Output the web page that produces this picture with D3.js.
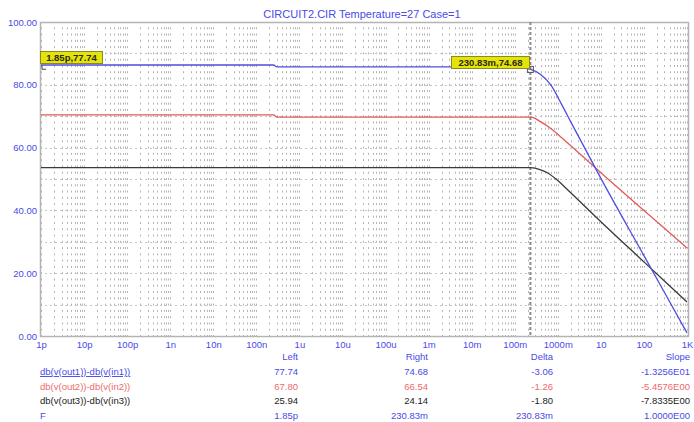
<!DOCTYPE html>
<html>
<head>
<meta charset="utf-8">
<script src="https://cdn.jsdelivr.net/npm/d3@7"></script>
<style>
  body { margin: 0; background: #fff; }
  svg { font-family: "Liberation Sans", Arial, sans-serif; }
</style>
</head>
<body>
<svg id="chart" width="694" height="422"></svg>
<script>
const title = 'CIRCUIT2.CIR Temperature=27 Case=1';

const freqTicks = [1e-12, 1e-11, 1e-10, 1e-9, 1e-8, 1e-7, 1e-6, 1e-5, 1e-4, 1e-3, 1e-2, 1e-1, 1, 10, 100, 1000];
const freqLabels = ['1p', '10p', '100p', '1n', '10n', '100n', '1u', '10u', '100u', '1m', '10m', '100m', '1000m', '10', '100', '1K'];
const yTicks = [100, 80, 60, 40, 20, 0];
const yLabels = ['100.00', '80.00', '60.00', '40.00', '20.00', '0.00'];

// traces (y in axis units)
const blueF = [1e-12, 2.5e-7, 3e-7, 0.1, 0.235, 0.4, 0.7, 1.2, 2, 10, 100, 1000];
const blueV = [86.3, 86.3, 85.7, 85.7, 84.9, 83.3, 79.8, 74.0, 68.2, 50.2, 25.6, 1.0];
const redF = [1e-12, 2.5e-7, 3e-7, 0.235, 0.403, 0.7, 1.175, 10, 100, 1000];
const redV = [70.4, 70.4, 69.7, 69.7, 68.2, 66.0, 63.4, 52.0, 40.0, 28.0];
const blackF = [1e-12, 0.235, 0.4, 0.585, 1.0, 1.71, 10, 100, 1000];
const blackV = [53.6, 53.6, 52.9, 51.9, 49.5, 46.5, 36.4, 23.6, 10.8];

// cursors
const cursorF = [1.85e-12, 0.23083];
const cursorV = [85.9, 84.9];
const cursorText = ['1.85p,77.74', '230.83m,74.68'];

// table below the plot
const traceNames = ['db(v(out1))-db(v(in1))', 'db(v(out2))-db(v(in2))', 'db(v(out3))-db(v(in3))', 'F'];
const traceColors = ['#4a4ae8', '#ee6a6a', '#222', '#4a4ae8'];
const leftVals = ['77.74', '67.80', '25.94', '1.85p'];
const rightVals = ['74.68', '66.54', '24.14', '230.83m'];
const deltaVals = ['-3.06', '-1.26', '-1.80', '230.83m'];
const slopeVals = ['-1.3256E01', '-5.4576E00', '-7.8335E00', '1.0000E00'];
const headers = ['Left', 'Right', 'Delta', 'Slope'];

const svg = d3.select('#chart');
const plotL = 40, plotR = 688, plotT = 22, plotB = 336;

const x = d3.scaleLog().domain([1e-12, 1000]).range([41, 687]);
const y = d3.scaleLinear().domain([0, 100]).range([plotB, plotT]);

const axisBlue = '#4a4ae8';

// grid: dotted vertical lines, dots land on rows every 2 units
const step = y(0) - y(2);
let gridF = [];
for (let e = -12; e < 3; e++) {
  for (let k = 1; k <= 9; k++) gridF.push(k * Math.pow(10, e));
}
gridF.push(1000);

const grid = svg.append('g');
grid.selectAll('line.v')
  .data(gridF).enter().append('line')
  .attr('class', 'v')
  .attr('x1', d => Math.round(x(d)) + 0.5)
  .attr('x2', d => Math.round(x(d)) + 0.5)
  .attr('y1', plotT)
  .attr('y2', plotB)
  .style('stroke', '#b4b4b4')
  .style('stroke-width', 1)
  .style('stroke-dasharray', `2 ${step - 2}`)
  .style('stroke-dashoffset', 1);

// dotted rows every 10 units
grid.selectAll('line.h')
  .data(d3.range(10, 100, 10)).enter().append('line')
  .attr('class', 'h')
  .attr('x1', plotL)
  .attr('x2', plotR)
  .attr('y1', d => Math.round(y(d)) + 0.5)
  .attr('y2', d => Math.round(y(d)) + 0.5)
  .style('stroke', '#c4c4c4')
  .style('stroke-width', 1)
  .style('stroke-dasharray', '2 3');

// frame
svg.append('rect')
  .attr('x', plotL + 0.5).attr('y', plotT + 0.5)
  .attr('width', plotR - plotL).attr('height', plotB - plotT)
  .style('fill', 'none')
  .style('stroke', '#b4b4b4')
  .style('stroke-width', 1.5);

// right cursor line
svg.append('line')
  .attr('x1', x(cursorF[1])).attr('x2', x(cursorF[1]))
  .attr('y1', plotT).attr('y2', plotB)
  .style('stroke', '#8a8a8a')
  .style('stroke-width', 2)
  .style('stroke-dasharray', '3 2');

// title
svg.append('text')
  .attr('x', 362).attr('y', 18)
  .attr('text-anchor', 'middle')
  .style('font-size', '11px')
  .style('fill', axisBlue)
  .text(title);

// y axis labels
const yAxis = d3.axisLeft(y).tickValues(yTicks).tickSize(0).tickPadding(3)
  .tickFormat((d, i) => yLabels[i]);
svg.append('g')
  .attr('transform', `translate(${plotL},0)`)
  .call(yAxis)
  .call(g => g.select('.domain').remove())
  .selectAll('text')
  .style('font-size', '9.5px')
  .style('font-family', '"Liberation Sans", Arial, sans-serif')
  .style('fill', axisBlue);

// x axis labels
const xAxis = d3.axisBottom(x).tickValues(freqTicks).tickSize(0).tickPadding(5)
  .tickFormat((d, i) => freqLabels[i]);
svg.append('g')
  .attr('transform', `translate(0,${plotB})`)
  .call(xAxis)
  .call(g => g.select('.domain').remove())
  .selectAll('text')
  .style('font-size', '9.5px')
  .style('font-family', '"Liberation Sans", Arial, sans-serif')
  .style('fill', axisBlue);

// traces
const line = d3.line().x(d => x(d[0])).y(d => y(d[1])).curve(d3.curveMonotoneX);
const traces = [
  { f: blackF, v: blackV, color: '#3a3a3a' },
  { f: redF, v: redV, color: '#e25a5a' },
  { f: blueF, v: blueV, color: '#4f4fdf' }
];
svg.append('g').selectAll('path')
  .data(traces).enter().append('path')
  .attr('d', t => line(t.f.map((f, i) => [f, t.v[i]])))
  .style('fill', 'none')
  .style('stroke', t => t.color)
  .style('stroke-width', 1.3);

// cursor markers
svg.append('rect')
  .attr('x', x(cursorF[1]) - 3).attr('y', y(cursorV[1]) - 3)
  .attr('width', 6).attr('height', 6)
  .style('fill', 'none').style('stroke', '#555').style('stroke-width', 1);
svg.append('path')
  .attr('d', `M${plotL + 2},${y(cursorV[0]) - 1} v4 h4`)
  .style('fill', 'none').style('stroke', '#444').style('stroke-width', 1);

// cursor labels
const boxes = [
  { x: plotL, y: 51, w: 62, text: cursorText[0] },
  { x: 451, y: 56, w: 78, text: cursorText[1] }
];
boxes.forEach(b => {
  svg.append('rect')
    .attr('x', b.x + 0.5).attr('y', b.y + 0.5)
    .attr('width', b.w).attr('height', 12)
    .style('fill', '#e4e40a')
    .style('stroke', '#8a8a20')
    .style('stroke-width', 1);
  svg.append('text')
    .attr('x', b.x + b.w / 2 + 0.5).attr('y', b.y + 10)
    .attr('text-anchor', 'middle')
    .style('font-size', '9.5px')
    .style('font-weight', 'bold')
    .style('fill', '#2a2a10')
    .text(b.text);
});

// table
const colX = [298, 428, 553, 690];
const rowY = [360, 375, 390, 404, 419];
headers.forEach((h, i) => {
  svg.append('text')
    .attr('x', colX[i]).attr('y', rowY[0])
    .attr('text-anchor', 'end')
    .style('font-size', '9.5px')
    .style('fill', axisBlue)
    .text(h);
});
traceNames.forEach((name, r) => {
  const yy = rowY[r + 1];
  const c = traceColors[r];
  svg.append('text')
    .attr('x', 40).attr('y', yy)
    .style('font-size', '9.5px')
    .style('fill', c)
    .style('text-decoration', r === 0 ? 'underline' : 'none')
    .text(name);
  [leftVals[r], rightVals[r], deltaVals[r], slopeVals[r]].forEach((v, i) => {
    svg.append('text')
      .attr('x', colX[i]).attr('y', yy)
      .attr('text-anchor', 'end')
      .style('font-size', '9.5px')
      .style('fill', c)
      .text(v);
  });
});
</script>
</body>
</html>
